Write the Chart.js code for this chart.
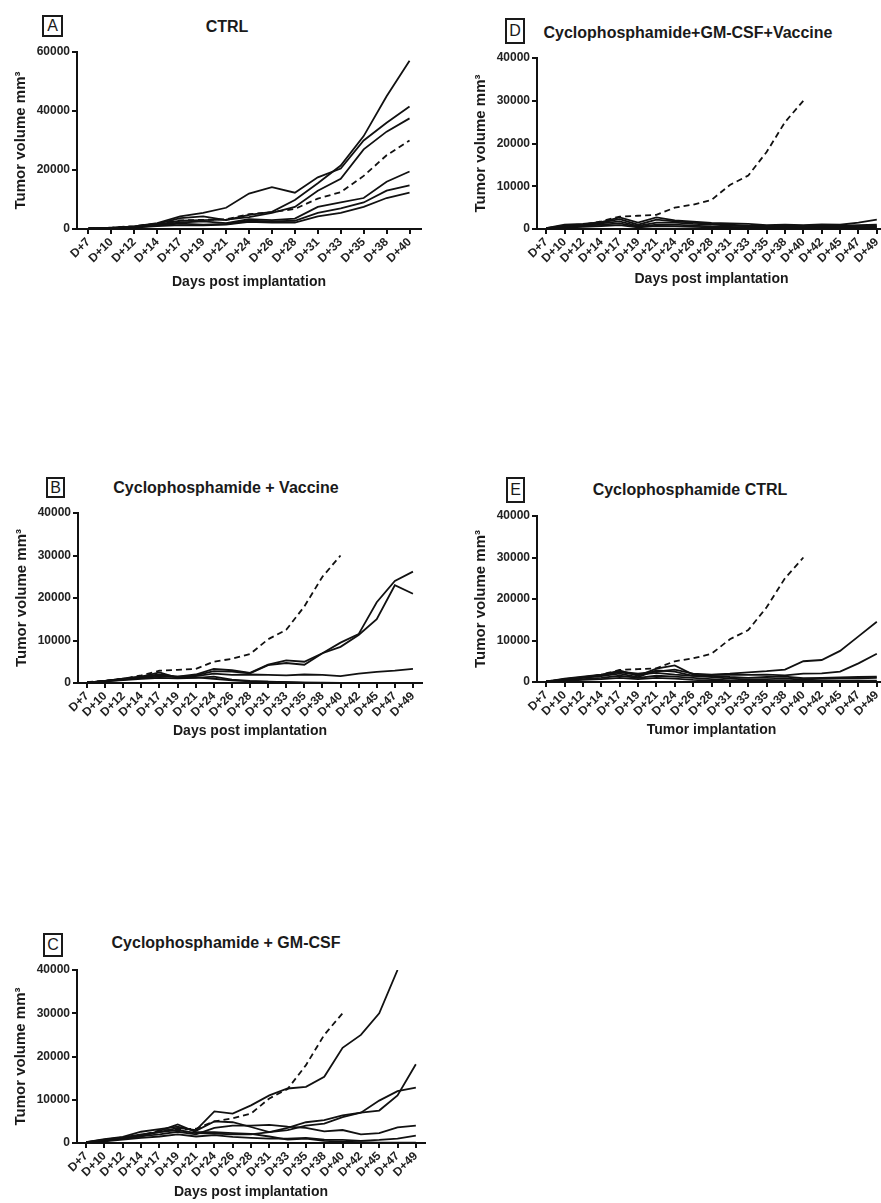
<!DOCTYPE html>
<html>
<head>
<meta charset="utf-8">
<script src="https://cdn.jsdelivr.net/npm/chart.js@4.4.1/dist/chart.umd.min.js"></script>
<style>
  html, body { margin: 0; padding: 0; background: #fff; }
  body { width: 881px; height: 1203px; position: relative; overflow: hidden; font-family: 'Liberation Sans', Arial, sans-serif; }
  canvas { position: absolute; }
  .title { position: absolute; transform: translate(-50%, -50%); font-weight: bold; font-size: 16px; color: #1a1a1a; white-space: nowrap; }
  .letter { position: absolute; border: 2px solid #1a1a1a; box-sizing: border-box; font-size: 16px; color: #1a1a1a; display: flex; align-items: center; justify-content: center; }
</style>
</head>
<body>
<div class="letter" style="left:42px;top:15px;width:21px;height:22px">A</div>
<div class="title" style="left:227px;top:27px">CTRL</div>
<div class="letter" style="left:505px;top:18px;width:20px;height:26px">D</div>
<div class="title" style="left:688px;top:33px">Cyclophosphamide+GM-CSF+Vaccine</div>
<div class="letter" style="left:46px;top:477px;width:19px;height:21px">B</div>
<div class="title" style="left:226px;top:488px">Cyclophosphamide + Vaccine</div>
<div class="letter" style="left:506px;top:477px;width:19px;height:26px">E</div>
<div class="title" style="left:690px;top:490px">Cyclophosphamide CTRL</div>
<div class="letter" style="left:43px;top:933px;width:20px;height:24px">C</div>
<div class="title" style="left:226px;top:943px">Cyclophosphamide + GM-CSF</div>

<canvas id="chartA"></canvas>
<canvas id="chartD"></canvas>
<canvas id="chartB"></canvas>
<canvas id="chartE"></canvas>
<canvas id="chartC"></canvas>

<script>
// day labels
const daysShort = ['D+7','D+10','D+12','D+14','D+17','D+19','D+21','D+24','D+26','D+28','D+31','D+33','D+35','D+38','D+40'];
const daysLong = daysShort.concat(['D+42','D+45','D+47','D+49']);

// dashed reference curve (same in every panel)
const refCurve = [200, 500, 1000, 1800, 2900, 3100, 3300, 5000, 5700, 6800, 10300, 12500, 18000, 25000, 30000];

// A - CTRL
const ctrlA1 = [200, 400, 900, 2000, 4300, 5500, 7200, 12000, 14200, 12300, 17500, 20500, 30000, 36000, 41500];
const ctrlA2 = [200, 400, 800, 1700, 3700, 4300, 3000, 4800, 5800, 9800, 15500, 21500, 31500, 45000, 57000];
const ctrlA3 = [200, 400, 800, 1500, 2800, 3000, 3200, 4000, 5500, 7500, 13000, 17000, 27000, 33000, 37500];
const ctrlA4 = [100, 300, 700, 1300, 2200, 2600, 2000, 3300, 3000, 3500, 7500, 9000, 10500, 16000, 19500];
const ctrlA5 = [100, 300, 600, 1200, 1800, 1500, 1700, 2800, 2600, 2800, 5500, 7000, 9000, 13000, 14800];
const ctrlA6 = [100, 200, 500, 1000, 1300, 1200, 1500, 2400, 2200, 2200, 4300, 5500, 7500, 10500, 12300];

// D - Cyclophosphamide+GM-CSF+Vaccine
const cgvD1 = [200, 1000, 1200, 1600, 2700, 1500, 2700, 2000, 1700, 1400, 1300, 1200, 900, 1000, 900, 1100, 1000, 1500, 2200];
const cgvD2 = [200, 800, 1100, 1500, 2300, 1000, 2200, 1800, 1500, 1200, 1000, 800, 700, 800, 700, 900, 800, 900, 1000];
const cgvD3 = [100, 600, 900, 1300, 1800, 700, 1500, 1500, 1200, 1000, 800, 600, 600, 600, 600, 700, 700, 700, 700];
const cgvD4 = [100, 500, 700, 1000, 1300, 500, 1000, 1000, 800, 600, 500, 400, 400, 500, 400, 500, 500, 500, 500];
const cgvD5 = [100, 300, 500, 700, 900, 400, 700, 600, 500, 400, 300, 300, 300, 300, 300, 300, 300, 300, 300];

// B - Cyclophosphamide + Vaccine
const cvB1 = [100, 500, 1000, 1500, 2000, 1500, 2000, 3300, 3000, 2400, 4300, 5300, 5000, 7000, 9500, 11500, 19000, 24000, 26200];
const cvB2 = [100, 500, 900, 1400, 1800, 1400, 1800, 2800, 2700, 2300, 4200, 4700, 4300, 7000, 8500, 11300, 15000, 23000, 21000];
const cvB3 = [100, 400, 800, 1200, 1500, 1500, 1600, 2200, 1900, 2000, 1900, 1800, 2000, 1900, 1600, 2200, 2600, 2900, 3300];
const cvB4 = [100, 500, 1000, 1500, 2500, 1200, 1300, 1000, 600, 400, 300, 200, 100, 100, 50, 50, 50, 50, 50];
const cvB5 = [100, 400, 700, 1000, 1200, 1100, 1200, 1500, 800, 500, 300, 200, 100, 50, 0, 0, 0, 0, 0];

// E - Cyclophosphamide CTRL
const cyE1 = [100, 800, 1300, 1800, 2500, 2000, 2500, 3000, 2000, 1800, 2000, 2300, 2600, 3000, 5000, 5300, 7500, 11000, 14500];
const cyE2 = [100, 700, 1200, 1700, 2300, 1800, 2200, 1800, 1500, 1700, 1800, 1700, 1800, 1600, 2000, 2100, 2500, 4500, 6800];
const cyE3 = [100, 600, 1100, 1600, 2800, 1500, 3200, 4000, 1800, 1500, 1200, 1000, 1200, 1300, 900, 1000, 1100, 1200, 1300];
const cyE4 = [100, 500, 1000, 1400, 2000, 1200, 2800, 2500, 1500, 1200, 800, 600, 700, 800, 600, 800, 900, 900, 1000];
const cyE5 = [100, 400, 700, 1000, 1500, 1000, 1500, 1300, 1000, 700, 400, 300, 300, 300, 300, 400, 300, 300, 300];
const cyE6 = [100, 300, 500, 700, 1000, 700, 1000, 800, 500, 300, 200, 100, 100, 100, 100, 100, 100, 100, 100];

// C - Cyclophosphamide + GM-CSF
const cgC1 = [200, 800, 1300, 2000, 2500, 3500, 3000, 7300, 6800, 8700, 11000, 12600, 13000, 15300, 22000, 25000, 30000, 40000, null];
const cgC2 = [200, 900, 1400, 2600, 3200, 3800, 2800, 5000, 4800, 3700, 2500, 3000, 4000, 4500, 6000, 7000, 7500, 11000, 18200];
const cgC3 = [100, 700, 1200, 1800, 2500, 3000, 2300, 2200, 2000, 2000, 2500, 3500, 4800, 5300, 6400, 7000, 9800, 12000, 12800];
const cgC4 = [100, 600, 1100, 1600, 2000, 2600, 2000, 3500, 4000, 4000, 4200, 3800, 3500, 2700, 3000, 2000, 2300, 3600, 4000];
const cgC5 = [100, 500, 1000, 1500, 2800, 4300, 2500, 2500, 2300, 2100, 1500, 800, 1000, 500, 300, 200, 100, 100, 100];
const cgC6 = [100, 400, 800, 1200, 1500, 2000, 1500, 1800, 1400, 1200, 1000, 1000, 1200, 800, 700, 500, 700, 1000, 1700];

const yTitle = 'Tumor volume mm³';
const tickFont = { family: "'Liberation Sans', Arial, sans-serif", size: 12, weight: 'bold' };
const xTitleFont = { family: "'Liberation Sans', Arial, sans-serif", size: 14, weight: 'bold' };
const yTitleFont = { family: "'Liberation Sans', Arial, sans-serif", size: 15, weight: 'bold' };

function makePanel(id, geo, labels, solids, yMax, yStep, xTitle) {
  const Wy = 68, padTop = 10, padRight = 10;
  const cv = document.getElementById(id);
  const w = Math.round(geo.right - geo.axisX + Wy + padRight);
  const h = Math.round(padTop + (geo.bottom - geo.top) + geo.hx);
  cv.width = w; cv.height = h;
  cv.style.left = (geo.axisX - Wy) + 'px';
  cv.style.top = (geo.top - padTop) + 'px';

  const datasets = solids.map(s => ({
    data: s, borderColor: '#111', borderWidth: 1.8, pointRadius: 0, fill: false, tension: 0
  }));
  datasets.push({
    data: refCurve, borderColor: '#111', borderWidth: 1.8, borderDash: [6, 4], pointRadius: 0, fill: false, tension: 0
  });

  new Chart(cv.getContext('2d'), {
    type: 'line',
    data: { labels: labels, datasets: datasets },
    options: {
      responsive: false,
      animation: false,
      devicePixelRatio: 1,
      layout: { padding: { top: padTop, right: padRight, left: 0, bottom: 0 } },
      plugins: { legend: { display: false }, tooltip: { enabled: false } },
      scales: {
        x: {
          type: 'category',
          offset: true,
          grid: { display: true, drawOnChartArea: false, drawTicks: true, tickLength: 5, color: '#111', lineWidth: 2, offset: false },
          border: { display: true, color: '#111', width: 2 },
          ticks: { autoSkip: false, minRotation: 45, maxRotation: 45, color: '#222', font: tickFont, padding: 1 },
          title: { display: true, text: xTitle, color: '#1a1a1a', font: xTitleFont, padding: { top: 2, bottom: 2 } },
          afterFit: (scale) => { scale.height = geo.hx; }
        },
        y: {
          min: 0, max: yMax,
          grid: { display: true, drawOnChartArea: false, drawTicks: true, tickLength: 5, color: '#111', lineWidth: 2 },
          border: { display: true, color: '#111', width: 2 },
          ticks: { stepSize: yStep, color: '#222', font: tickFont, padding: 2, callback: (v) => String(v) },
          title: { display: true, text: yTitle, color: '#1a1a1a', font: yTitleFont, padding: { top: 3, bottom: 2 } },
          afterFit: (scale) => { scale.width = Wy; }
        }
      }
    }
  });
}

makePanel('chartA', { axisX: 77, top: 52, bottom: 229, right: 421, hx: 64 }, daysShort,
  [ctrlA1, ctrlA2, ctrlA3, ctrlA4, ctrlA5, ctrlA6], 60000, 20000, 'Days post implantation');
makePanel('chartD', { axisX: 537, top: 58, bottom: 229, right: 886, hx: 61 }, daysLong,
  [cgvD1, cgvD2, cgvD3, cgvD4, cgvD5], 40000, 10000, 'Days post implantation');
makePanel('chartB', { axisX: 78, top: 513, bottom: 683, right: 422, hx: 59 }, daysLong,
  [cvB1, cvB2, cvB3, cvB4, cvB5], 40000, 10000, 'Days post implantation');
makePanel('chartE', { axisX: 537, top: 516, bottom: 682, right: 886, hx: 59 }, daysLong,
  [cyE1, cyE2, cyE3, cyE4, cyE5, cyE6], 40000, 10000, 'Tumor implantation');
makePanel('chartC', { axisX: 77, top: 970, bottom: 1143, right: 425, hx: 60 }, daysLong,
  [cgC1, cgC2, cgC3, cgC4, cgC5, cgC6], 40000, 10000, 'Days post implantation');
</script>
</body>
</html>
